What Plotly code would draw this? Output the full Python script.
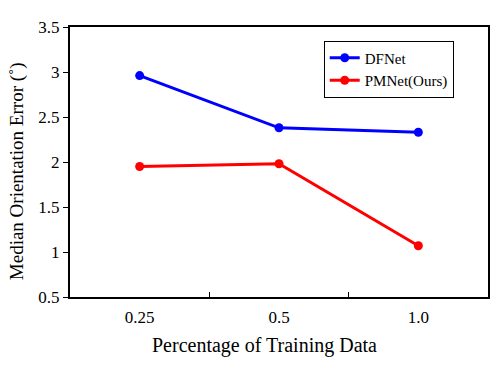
import plotly.graph_objects as go

# training data fractions (categories) and median orientation errors (deg)
fractions = ["0.25", "0.5", "1.0"]
dfnet_err = [2.96, 2.38, 2.33]
pmnet_err = [1.95, 1.98, 1.07]

fig = go.Figure()

fig.add_trace(go.Scatter(x=fractions, y=dfnet_err, mode='lines+markers', name="DFNet",
                         line=dict(color='#0000ff', width=3), marker=dict(size=9, color='#0000ff')))
fig.add_trace(go.Scatter(x=fractions, y=pmnet_err, mode='lines+markers', name="PMNet(Ours)",
                         line=dict(color='#ff0000', width=3), marker=dict(size=9, color='#ff0000')))

serif = 'Liberation Serif'

fig.update_layout(
    width=498, height=371,
    margin=dict(l=70, r=10, t=27, b=74, autoexpand=False),
    paper_bgcolor='white', plot_bgcolor='white',
    font=dict(family=serif, size=16, color='black'),
    showlegend=True,
    legend=dict(x=0.607, y=0.95, xanchor='left', yanchor='top',
                bordercolor='black', borderwidth=1, bgcolor='white',
                font=dict(family=serif, size=15), tracegroupgap=0, itemwidth=30),
    xaxis=dict(
        type='category', range=[-0.5, 2.5], automargin=False,
        tickfont=dict(family=serif, size=17), ticklabelstandoff=4,
        showline=True, linecolor='black', linewidth=2, mirror=True,
        ticks='inside', tickson='boundaries', ticklen=5, tickcolor='black',
        showgrid=False, zeroline=False,
    ),
    yaxis=dict(
        range=[0.5, 3.5], dtick=0.5, automargin=False,
        tickfont=dict(family=serif, size=17),
        showline=True, linecolor='black', linewidth=2, mirror=True,
        ticks='outside', ticklen=5, tickcolor='black',
        showgrid=False, zeroline=False,
    ),
    annotations=[
        # axis titles, placed where the reference has them
        dict(text='Percentage of Training Data', xref='paper', yref='paper',
             x=0.465, y=-0.13, xanchor='center', yanchor='top', showarrow=False,
             font=dict(family=serif, size=20)),
        dict(text='Median Orientation Error (˚)', xref='paper', yref='paper',
             x=-0.125, y=0.465, xanchor='center', yanchor='middle', showarrow=False,
             textangle=-90, font=dict(family=serif, size=19)),
    ],
)

# drop the default page margin so the figure sits at the window's top-left corner
fig.write_html("out.html", config=dict(displayModeBar=False),
               post_script="document.body.style.margin='0';")
